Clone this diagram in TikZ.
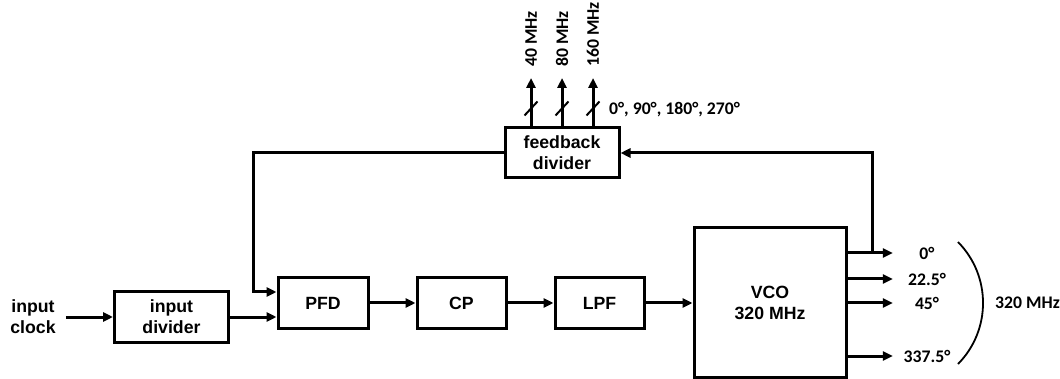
\documentclass[tikz,border=0pt]{standalone}
\usepackage{fontspec}
\setmainfont{Liberation Sans}
\newfontfamily\califont{Carlito}
\usetikzlibrary{arrows.meta,calc}

\begin{document}
\begin{tikzpicture}[x=1pt,y=-1pt,>={Triangle[length=10pt,width=9pt]},
 font=\fontsize{17.7}{21}\selectfont\bfseries,
 wire/.style={line width=3pt},
 blk/.style={draw,line width=3pt,align=center,inner sep=0pt},
 callbl/.style={font=\fontsize{17.7}{21}\selectfont\califont\bfseries,inner sep=0pt},
 outlbl/.style={callbl,minimum width=68pt},
 freqlbl/.style={callbl,rotate=90,anchor=west,inner xsep=11pt},
 slashmark/.style={line width=2pt}]
\useasboundingbox (0,0) rectangle (1060,379);
% blocks of the loop
\node[align=center,inner xsep=10pt] (clk) at (33,317) {input\\clock};
\node[blk,minimum width=114pt,minimum height=51pt] (indiv) at (171.5,317) {input\\divider};
\node[blk,minimum width=90pt,minimum height=50pt] (pfd) at (323,303) {PFD};
\node[blk,minimum width=89pt,minimum height=50pt] (cp) at (461.5,303) {CP};
\node[blk,minimum width=89pt,minimum height=50pt] (lpf) at (599.5,303) {LPF};
\node[blk,minimum width=152pt,minimum height=149pt] (vco) at (770,302.5) {VCO\\320 MHz};
\node[blk,minimum width=114pt,minimum height=50pt] (fb) at (562,153) {feedback\\divider};
% phase outputs of the VCO
\node[outlbl] (o0) at (927,253) {0°};
\node[outlbl] (o22) at (927,279) {22.5°};
\node[outlbl] (o45) at (927,303) {45°};
\node[outlbl] (o337) at (927,356) {337.5°};
\node[callbl,anchor=west] (fout) at (995,303) {320 MHz};
% divided outputs
\node[freqlbl] (l40) at (531,78) {40 MHz};
\node[freqlbl] (l80) at (562,78) {80 MHz};
\node[freqlbl] (l160) at (593,78) {160 MHz};
\node[callbl,anchor=west] (phases) at (609,110) {0°, 90°, 180°, 270°};

\draw[wire,->] (clk.east) -- (indiv.west);
\draw[wire,->] (indiv.east) -- (indiv.east -| pfd.west);
\draw[wire,->] (pfd) -- (cp);
\draw[wire,->] (cp) -- (lpf);
\draw[wire,->] (lpf.east) -- (lpf.east -| vco.west);
\foreach \o in {o0,o22,o45,o337}
  \draw[wire,->] (vco.east |- \o) -- (\o.west);
\coordinate (tap) at ($(vco.east |- o0)+(25,0)$);
\draw[wire,->] (tap) |- (fb.east);
\coordinate (fbin) at ($(pfd.west)+(0,-11)$);
\draw[wire,->] (fb.west) -| ($(fbin)+(-23,0)$) -- (fbin);
\foreach \f in {l40,l80,l160} {
  \draw[wire,->] (fb.north -| \f.west) -- (\f.west);
  \draw[slashmark] ($(fb.north -| \f.west)+(-6.5,-11)$) -- ++(13,-14);
}
\draw[line width=1.8pt] (958,242) arc[start angle=44.6,end angle=-44.6,radius=86.9pt];
\end{tikzpicture}
\end{document}
